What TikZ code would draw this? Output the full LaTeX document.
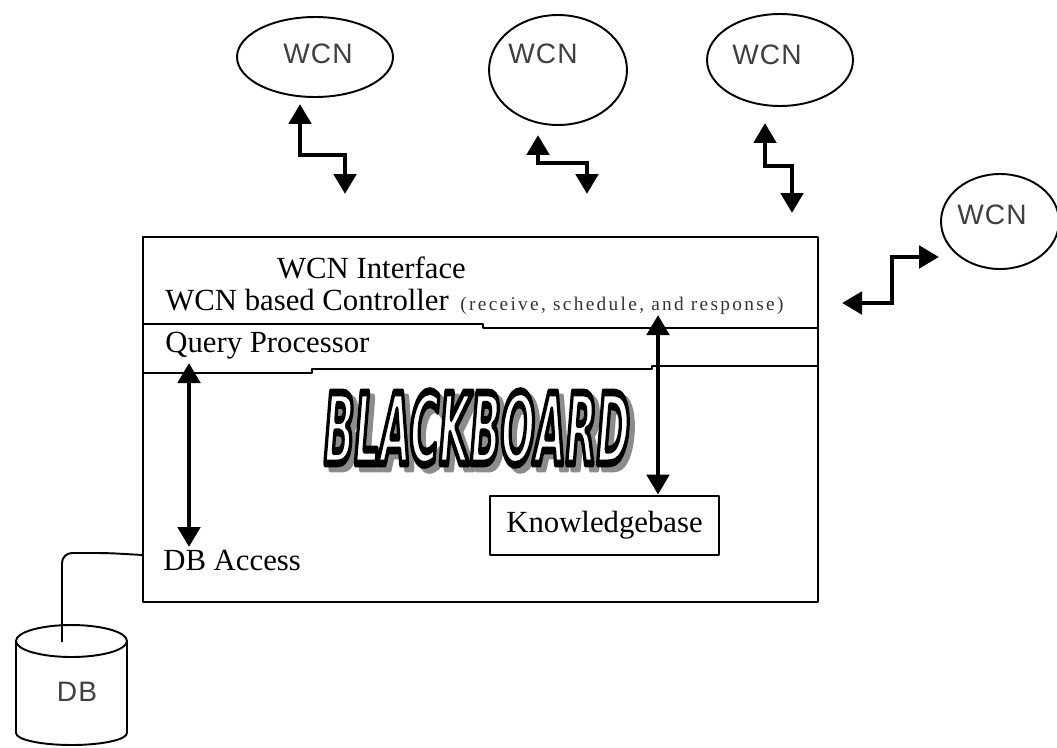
\documentclass[tikz,border=0pt]{standalone}
\usepackage{fontspec}
\setmainfont{Liberation Serif}
\newfontfamily\wcnfont{Liberation Sans}
\newfontfamily\bbfont{DejaVu Sans}
\usetikzlibrary{arrows.meta,shapes.geometric}

% hollow lettering: fill white, stroke black (text render mode 2)
\newcommand\hollowword[1]{{\color{white}\special{pdf:literal direct 2 Tr 2.4 w 1 j 0 0 0 RG}#1\special{pdf:literal direct 0 Tr}}}
\newcommand\shadowword[1]{{\color{black!45}\special{pdf:literal direct 2 Tr 2.4 w 1 j}#1\special{pdf:literal direct 0 Tr}}}

\begin{document}
\begin{tikzpicture}[x=0.02cm, y=-0.02cm, line join=round,
    thinline/.style={line width=1.1pt},
    frame/.style={line width=1.6pt},
    link/.style={line width=2.8pt, line join=miter,
      {Triangle[length=0.4cm,width=0.44cm]}-{Triangle[length=0.4cm,width=0.44cm]}},
    wcn/.style={ellipse, draw, line width=1.1pt, inner sep=0pt},
    wcnlabel/.style={font={\wcnfont\fontsize{16}{18}\selectfont\addfontfeatures{LetterSpace=4}},
      text=black!75, inner sep=0pt},
    boardtext/.style={font={\fontsize{17.5}{20}\selectfont}, inner sep=0pt},
    notetext/.style={font={\fontsize{11}{13}\selectfont\addfontfeatures{LetterSpace=12}},
      text=black!80, inner sep=0pt},
    bigword/.style={font={\bbfont\bfseries\itshape\fontsize{30}{32}\selectfont},
      xscale=0.76, yscale=1.85, inner sep=0pt}]
\useasboundingbox (0,0) rectangle (1057,747);

% --- 1. THE WCN CLOUDS ---
  \node[wcn, minimum width=3.12cm, minimum height=1.6cm] (wcnA) at (315,57) {};
  \node[wcnlabel] (wcnAtext) at (318,54) {WCN};
  \node[wcn, minimum width=2.76cm, minimum height=2.2cm] (wcnB) at (558,70) {};
  \node[wcnlabel] (wcnBtext) at (543,54) {WCN};
  \node[wcn, minimum width=2.92cm, minimum height=1.84cm] (wcnC) at (780,60) {};
  \node[wcnlabel] (wcnCtext) at (767,55) {WCN};
  \node[wcn, minimum width=2.36cm, minimum height=1.9cm] (wcnD) at (1000,221.5) {};
  \node[wcnlabel] (wcnDtext) at (992,215) {WCN};

  % zigzag links
  \coordinate (linkAtop) at (300,104);
  \coordinate (linkAbot) at (345,194);
  \draw[link] (linkAtop) -- ++(0,51) -| (linkAbot);
  \coordinate (linkBtop) at (538,135);
  \coordinate (linkBbot) at (587,194);
  \draw[link] (linkBtop) -- ++(0,28) -| (linkBbot);
  \coordinate (linkCtop) at (765,123);
  \coordinate (linkCbot) at (792,213);
  \draw[link] (linkCtop) -- ++(0,43) -| (linkCbot);
  \coordinate (linkDleft) at (842,303);
  \coordinate (linkDright) at (939,257);
  \draw[link] (linkDleft) -- ++(50,0) |- (linkDright);

% --- 2. THE BLACKBOARD ---
  \coordinate (boardNW) at (143,237);
  \coordinate (boardSE) at (818,602);
  \draw[frame] (boardNW) rectangle (boardSE);
  \draw[frame] (143,324) -- (483,324) -- (483,328) -- (818,328);
  \draw[frame] (143,373) -- (312,373) -- (312,369) -- (652,369) -- (652,366) -- (818,366);

  \node[boardtext, anchor=base] (iface) at (371.5,278) {WCN Interface};
  \node[boardtext, anchor=base west] (ctrl) at (165,310) {WCN based Controller};
  \node[notetext, anchor=base west] (ctrlnote) at (460,310) {(receive, schedule, and response)};
  \node[boardtext, anchor=base west] (query) at (165,352) {Query Processor};
  \node[boardtext, anchor=base west] (dbaccess) at (163,570) {DB Access};

  % outlined title with shadow
  \node[bigword] (bbshadow) at (482,433) {\shadowword{BLACKBOARD}};
  \node[bigword] (bb) at (477,428) {\hollowword{BLACKBOARD}};

  \node[draw, frame, boardtext, minimum width=4.58cm, minimum height=1.18cm] (kb) at (604.5,525.5) {Knowledgebase};

  % inner links
  \coordinate (ctrlLink) at (658,315);
  \draw[link] (ctrlLink) -- (ctrlLink |- kb.north);
  \coordinate (queryLink) at (189,363);
  \coordinate (accessLink) at (189,547);
  \draw[link] (queryLink) -- (accessLink);

% --- 3. THE DATABASE ---
  \draw[thinline] (71.5,641) ellipse [x radius=1.11cm, y radius=0.32cm];
  \draw[thinline] (16,641) -- (16,733) arc[start angle=180, end angle=360, x radius=1.11cm, y radius=0.24cm] -- (127,641);
  \node[wcnlabel] (db) at (77,692) {DB};

  \coordinate (boardPort) at (143,555);
  \coordinate (dbTop) at (62,642);
  \draw[thinline, rounded corners=0.2cm] (boardPort) -- ++(-36,-2) -| (dbTop);

\end{tikzpicture}
\end{document}
